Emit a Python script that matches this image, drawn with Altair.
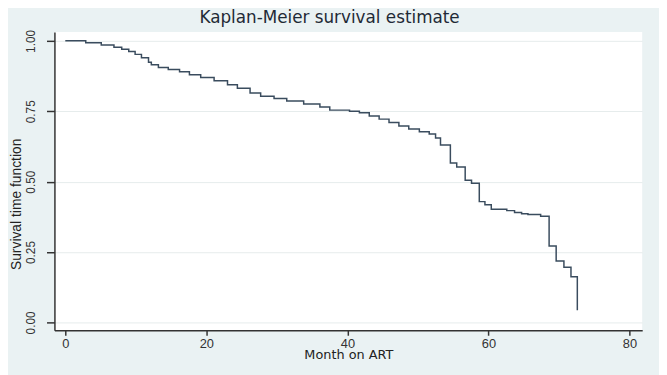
import altair as alt
import pandas as pd

# Kaplan-Meier step points: time (months) at which survival drops, and new survival value
months = [0, 2.9, 5.1, 6.9, 8.0, 9.0, 9.9, 10.8, 11.8, 12.2, 13.2, 14.6, 16.2, 17.6,
          19.2, 21.1, 23.0, 24.4, 26.2, 27.7, 29.6, 31.4, 33.8, 36.1, 37.5, 40.3,
          41.7, 43.1, 44.5, 45.9, 47.3, 48.7, 50.2, 51.6, 52.5, 53.2, 54.6, 55.5,
          56.7, 57.6, 58.7, 59.5, 60.4, 62.6, 63.7, 64.7, 65.6, 67.4, 68.6, 69.6,
          70.7, 71.7, 72.6]
survival = [1.000, 0.993, 0.985, 0.977, 0.970, 0.962, 0.952, 0.940, 0.924, 0.915,
            0.905, 0.898, 0.890, 0.880, 0.870, 0.858, 0.844, 0.832, 0.815, 0.803,
            0.795, 0.786, 0.776, 0.765, 0.754, 0.750, 0.745, 0.733, 0.722, 0.710,
            0.698, 0.687, 0.677, 0.669, 0.655, 0.630, 0.566, 0.552, 0.505, 0.494,
            0.429, 0.418, 0.402, 0.397, 0.390, 0.386, 0.383, 0.377, 0.271, 0.218,
            0.196, 0.162, 0.043]

x_ticks = [0, 20, 40, 60, 80]
y_ticks = [0.0, 0.25, 0.5, 0.75, 1.0]

df = pd.DataFrame({"month": months, "survival": survival})

line = alt.Chart(df).mark_line(
    interpolate="step-after", color="#3a4c5e", strokeWidth=1.5
).encode(
    x=alt.X(
        "month:Q",
        scale=alt.Scale(domain=[-1.54, 81.8], nice=False, zero=False),
        axis=alt.Axis(
            values=x_ticks, format="d", title="Month on ART", grid=False,
            domainColor="#333333", domainWidth=1.5, tickColor="#333333",
            tickWidth=1.5, tickSize=5, labelPadding=2,
            labelFont="Liberation Sans", labelFontSize=13, labelColor="#333333",
            titleFont="DejaVu Sans", titleFontSize=13, titleFontWeight="normal",
            titleColor="#222222", titleY=29, titleBaseline="alphabetic",
        ),
    ),
    y=alt.Y(
        "survival:Q",
        scale=alt.Scale(domain=[-0.028, 1.0316], nice=False, zero=False),
        axis=alt.Axis(
            values=y_ticks, format=".2f", title="Survival time function",
            grid=True, gridColor="#e6ecec", gridWidth=1,
            domainColor="#333333", domainWidth=1.5, tickColor="#333333",
            tickWidth=1.5, tickSize=8, labelAngle=270, labelAlign="center",
            labelBaseline="bottom", labelPadding=9,
            labelFont="Liberation Sans", labelFontSize=12, labelColor="#333333",
            titleFont="Liberation Sans", titleFontSize=14, titleFontWeight="normal",
            titleColor="#222222", titleAngle=270, titleX=-38, titleY=174,
            titleBaseline="middle", titleAlign="center",
        ),
    ),
)

chart = line.properties(
    width=595,
    height=302,
    autosize="none",
    padding={"left": 47, "top": 22, "right": 17, "bottom": 43},
    background="#EAF2F3",
    title=alt.Title(
        "Kaplan-Meier survival estimate", font="DejaVu Sans", fontSize=17,
        fontWeight="normal", color="#1f2a36", anchor="middle", dx=-19,
        baseline="bottom", offset=4, dy=19,
    ),
).configure_view(fill="white", stroke=None)

chart.save("out.html", embed_options={"renderer": "svg", "actions": False})
